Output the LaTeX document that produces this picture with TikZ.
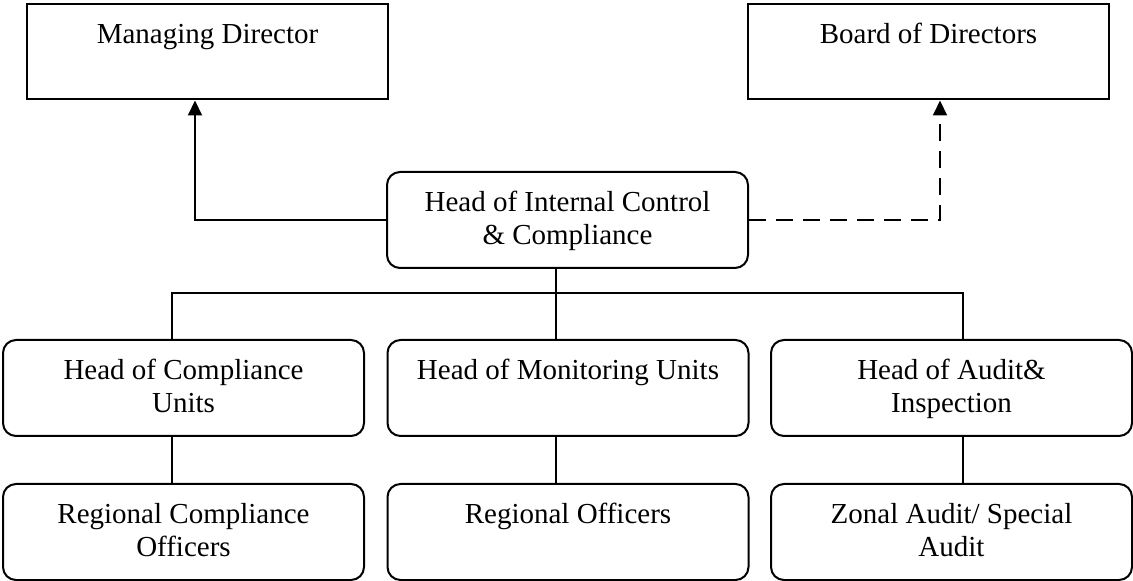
\documentclass[tikz,border=0pt]{standalone}
\usepackage{fontspec}
\setmainfont{Liberation Serif}
\usetikzlibrary{arrows.meta}
\newcommand{\topgap}{\rule{0pt}{13pt}}

\begin{document}
\begin{tikzpicture}[x=0.5pt, y=-0.5pt, line width=1pt,
        >={Triangle[length=7.5pt,width=7pt]},
        every node/.append style={font=\fontsize{14.5}{16.5}\selectfont, align=center, inner sep=0pt}]
      \tikzstyle{box} = [draw, minimum width=180.5pt, minimum height=47.5pt]
      \tikzstyle{unit} = [box, rounded corners=6.5pt, minimum height=48pt]
      \useasboundingbox (0,0) rectangle (1133,581);
      \node (managingdirector) [box] at (207.5,52) {\topgap Managing Director\\\strut};
      \node (board) [box] at (928.5,52) {\topgap Board of Directors\\\strut};
      \node (headicc) [unit] at (567.5,220) {\topgap Head of Internal Control\\\& Compliance\strut};
      \node (compliance) [unit] at (183.5,388) {\topgap Head of Compliance\\Units\strut};
      \node (monitoring) [unit] at (568,388) {\topgap Head of Monitoring Units\\\strut};
      \node (audit) [unit] at (951.5,388) {\topgap Head of Audit\&\\Inspection\strut};
      \node (regcompliance) [unit] at (183.5,532) {\topgap Regional Compliance\\Officers\strut};
      \node (regofficers) [unit] at (568,532) {\topgap Regional Officers\\\strut};
      \node (zonalaudit) [unit] at (951.5,532) {\topgap Zonal Audit/ Special\\Audit\strut};
      \draw[->] (headicc.west) -| ([xshift=-6.25pt]managingdirector.south);
      \draw[->,dash pattern=on 8.5pt off 5pt] (headicc.east) -| ([xshift=5.75pt]board.south);
      \draw ([xshift=-5.75pt]headicc.south) -- ++(0,24) coordinate (bus);
      \draw ([xshift=-5.75pt]compliance.north) |- (bus) -| ([xshift=5.75pt]audit.north);
      \draw ([xshift=-6pt]monitoring.north) -- (bus);
      \draw ([xshift=-5.75pt]compliance.south) -- ([xshift=-5.75pt]regcompliance.north);
      \draw ([xshift=-6pt]monitoring.south) -- ([xshift=-6pt]regofficers.north);
      \draw ([xshift=5.75pt]audit.south) -- ([xshift=5.75pt]zonalaudit.north);
    \end{tikzpicture}
\end{document}
